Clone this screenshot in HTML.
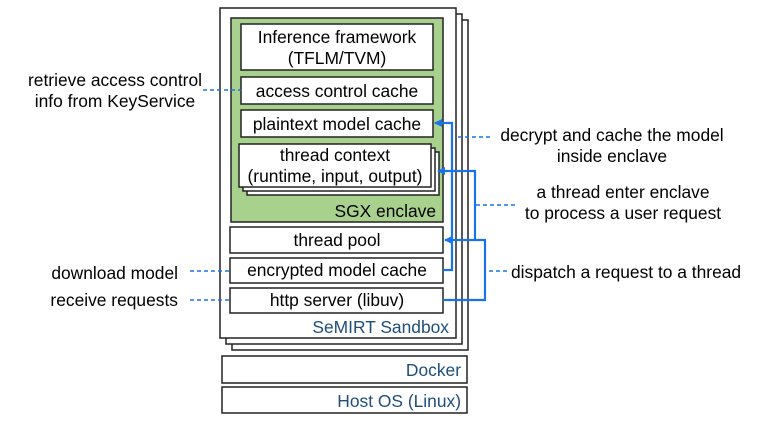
<!DOCTYPE html>
<html><head><meta charset="utf-8"><style>
html,body{margin:0;padding:0;background:#fff;}
svg{display:block;}
text{font-family:"Liberation Sans",Arial,sans-serif;font-size:17.4px;fill:#000;}
.b{fill:#fff;stroke:#222;stroke-width:1.5;}
.n{fill:#1f4e79;}
.d{stroke:#1a73e8;stroke-width:1.5;stroke-dasharray:4,3;fill:none;}
.c{stroke:#1a73e8;stroke-width:2.2;fill:none;}
</style></head><body>
<svg width="764" height="421" viewBox="0 0 764 421">
<defs><marker id="a" markerWidth="8" markerHeight="8" refX="7" refY="4" orient="auto" markerUnits="userSpaceOnUse"><path d="M0,0L8,4L0,8z" fill="#1a73e8"/></marker></defs>
<rect class="b" x="232" y="20" width="236" height="330"/>
<rect class="b" x="226" y="14" width="236" height="330"/>
<rect class="b" x="220" y="8" width="236" height="330"/>
<rect x="231" y="18" width="212" height="204" fill="#a9d18e" stroke="#222" stroke-width="1.5"/>
<rect class="b" x="241" y="24" width="192" height="46"/>
<text x="337" y="43" text-anchor="middle">Inference framework</text>
<text x="337" y="64" text-anchor="middle">(TFLM/TVM)</text>
<rect class="b" x="241" y="77" width="192" height="27"/>
<text x="337" y="97" text-anchor="middle">access control cache</text>
<rect class="b" x="241" y="110" width="192" height="27"/>
<text x="337" y="130" text-anchor="middle">plaintext model cache</text>
<rect class="b" x="247" y="152" width="192" height="43"/>
<rect class="b" x="243" y="148" width="192" height="43"/>
<rect class="b" x="239" y="144" width="192" height="43"/>
<text x="335" y="161" text-anchor="middle">thread context</text>
<text x="335" y="182" text-anchor="middle">(runtime, input, output)</text>
<text x="436" y="217" text-anchor="end">SGX enclave</text>
<rect class="b" x="230" y="227" width="213" height="26"/>
<text x="337" y="246" text-anchor="middle">thread pool</text>
<rect class="b" x="230" y="258" width="213" height="25"/>
<text x="337" y="276" text-anchor="middle">encrypted model cache</text>
<rect class="b" x="230" y="288" width="213" height="25"/>
<text x="337" y="306" text-anchor="middle">http server (libuv)</text>
<text class="n" x="449" y="333" text-anchor="end">SeMIRT Sandbox</text>
<rect class="b" x="222" y="356" width="245" height="27"/>
<text class="n" x="461" y="376" text-anchor="end">Docker</text>
<rect class="b" x="222" y="387" width="245" height="26"/>
<text class="n" x="461" y="407" text-anchor="end">Host OS (Linux)</text>
<path class="c" d="M443,270H452V123H435" marker-end="url(#a)"/>
<path class="c" d="M443,300H485V240H445" marker-end="url(#a)"/>
<path class="c" d="M475,240V171H438" marker-end="url(#a)"/>
<path class="d" d="M203,90H241"/>
<path class="d" d="M190,271H230"/>
<path class="d" d="M190,300H230"/>
<path class="d" d="M458,137H492"/>
<path class="d" d="M476,205H515"/>
<path class="d" d="M489,271H508"/>
<text x="115" y="86" text-anchor="middle">retrieve access control</text>
<text x="115" y="107" text-anchor="middle">info from KeyService</text>
<text x="178" y="279" text-anchor="end">download model</text>
<text x="178" y="306" text-anchor="end">receive requests</text>
<text x="612" y="141" text-anchor="middle">decrypt and cache the model</text>
<text x="612" y="162" text-anchor="middle">inside enclave</text>
<text x="623" y="198" text-anchor="middle">a thread enter enclave</text>
<text x="623" y="219" text-anchor="middle">to process a user request</text>
<text x="511" y="278">dispatch a request to a thread</text>
</svg>
</body></html>
